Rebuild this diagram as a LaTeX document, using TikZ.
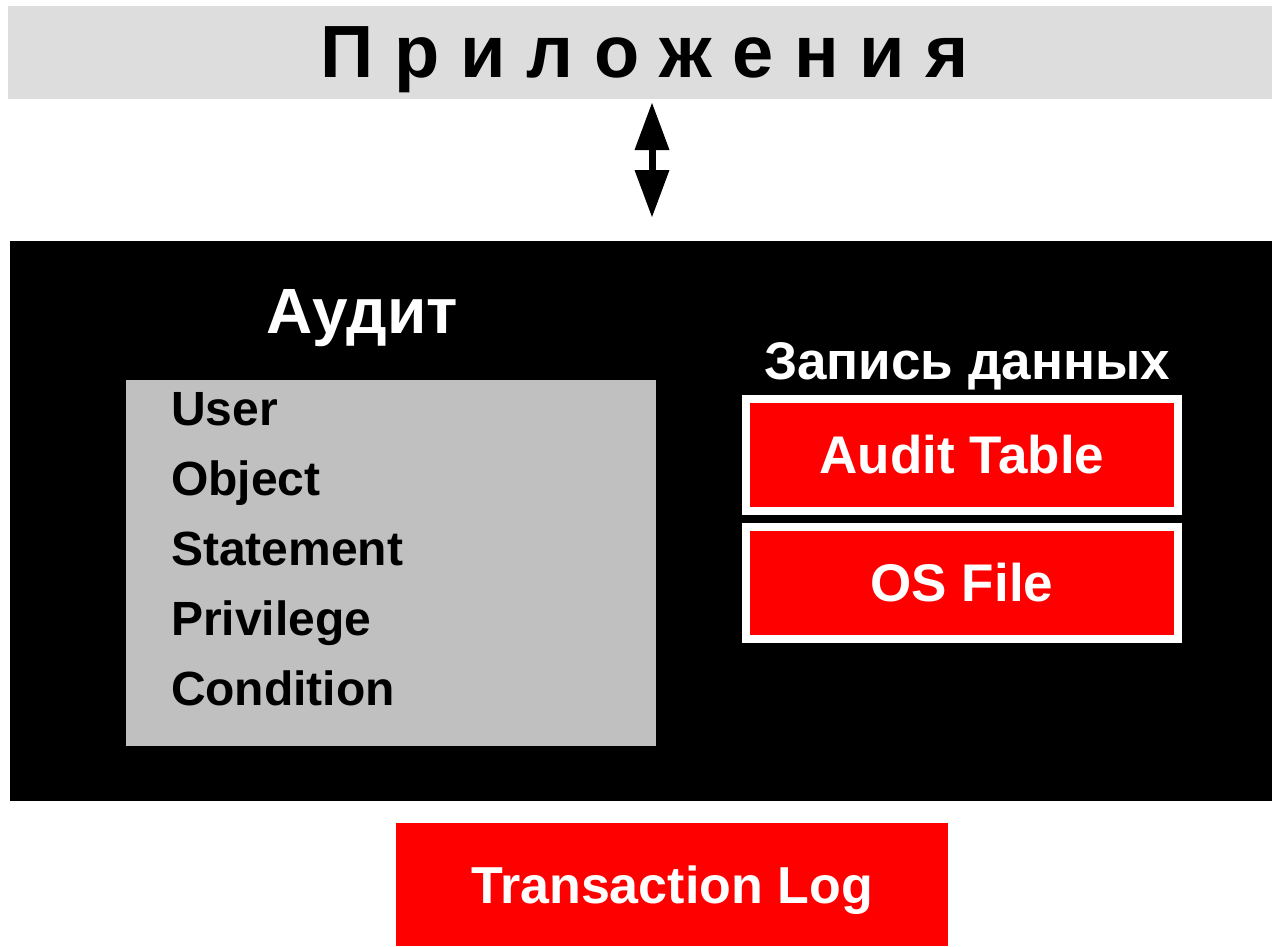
\documentclass[tikz,border=0pt]{standalone}
\usepackage{fontspec}
\setmainfont{Liberation Sans}
\usetikzlibrary{positioning,arrows.meta}
\definecolor{appgray}{HTML}{DDDDDD}
\definecolor{listgray}{HTML}{C0C0C0}
\newcommand{\fs}[1]{\fontsize{#1}{#1}\selectfont\bfseries}

\begin{document}
\begin{tikzpicture}[x=1pt, y=-1pt, every node/.style={inner sep=0pt, outer sep=0pt},
  redbox/.style={fill=red, draw=white, line width=8pt, minimum width=432pt, minimum height=112pt, text=white, font=\fs{53}},
  item/.style={anchor=base west, font=\fs{48}},
  dblarrow/.style={line width=7pt, >={Triangle[length=47pt,width=35pt,line width=0pt]}, <->}]
\useasboundingbox (0,0) rectangle (1272,946);
\node[fill=appgray, minimum width=1264pt, minimum height=93pt] (app) at (640,52.5) {};
\node[anchor=base, font=\fs{74}] (apptext) at (645,77) {П р и л о ж е н и я};
\node[fill=black, minimum width=1262pt, minimum height=560pt] (sys) at (641,521) {};
\draw[dblarrow, shorten <=4pt, shorten >=24pt] ([xshift=12pt]app.south) -- ([xshift=11pt]sys.north);
\node[anchor=base, text=white, font=\fs{64}] (audit) at (362,333) {Аудит};
\node[fill=listgray, minimum width=530pt, minimum height=366pt] (list) at (391,563) {};
\node[item] (user) at (171,425) {User};
\node[item] (object) at (171,495) {Object};
\node[item] (statement) at (171,565) {Statement};
\node[item] (privilege) at (171,635) {Privilege};
\node[item] (condition) at (171,705) {Condition};
\node[anchor=base, text=white, font=\fs{53}] (store) at (967,379) {Запись данных};
\node[redbox] (table) at (962,455) {Audit Table};
\node[redbox] (osfile) at (962,583) {OS File};
\node[fill=red, minimum width=552pt, minimum height=123pt, text depth=0pt, text=white, font=\fs{52}] (log) at (672,884.5) {Transaction Log};
\end{tikzpicture}
\end{document}
